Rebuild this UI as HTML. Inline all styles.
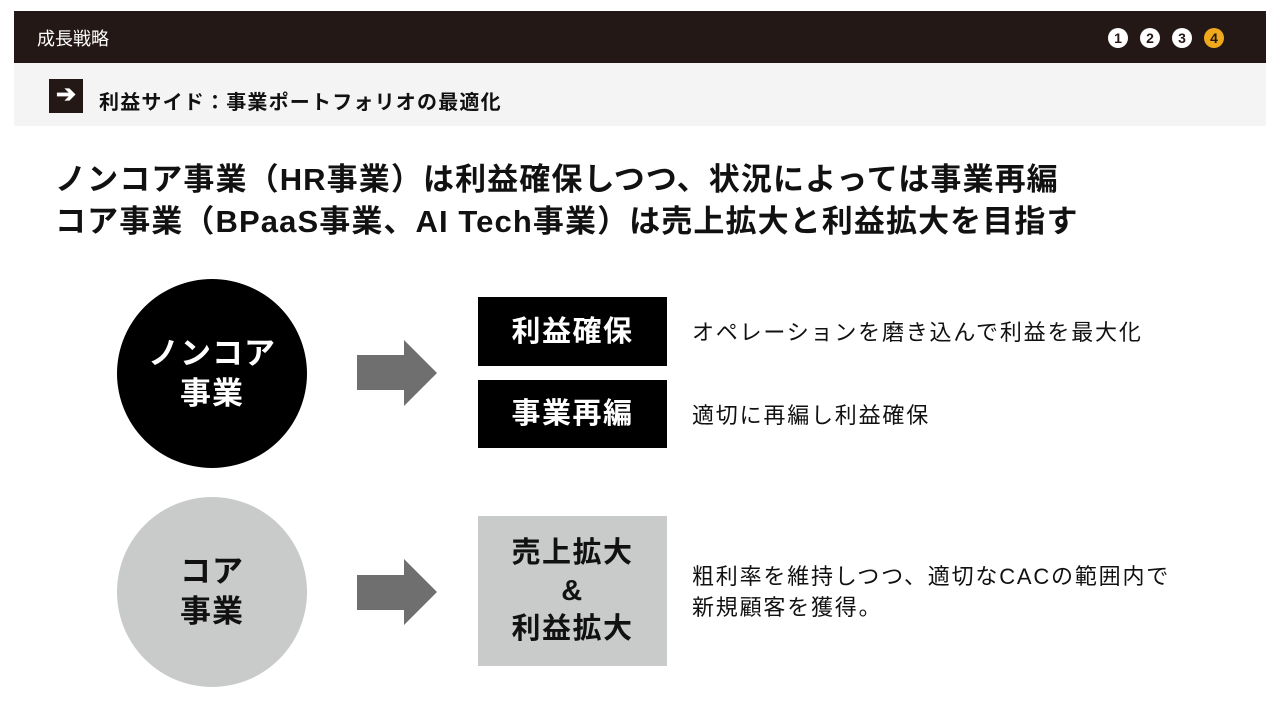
<!DOCTYPE html>
<html><head><meta charset="utf-8"><style>
body{margin:0;width:1280px;height:720px;background:#fff;position:relative;overflow:hidden;font-family:"Liberation Sans","Noto Sans CJK JP",sans-serif;color:#111}
.a{position:absolute}
.hdr{left:14px;top:11px;width:1252px;height:52px;background:#231815}
.sub{left:14px;top:63px;width:1252px;height:63px;background:#f4f4f4}
.num{width:20px;height:20px;border-radius:50%;background:#fff;color:#231815;font-weight:bold;font-size:14px;text-align:center;line-height:20px;top:28px}
.h1{left:55px;font-size:31px;font-weight:bold;white-space:nowrap;line-height:40px;letter-spacing:1.1px}
.circ{border-radius:50%;display:flex;align-items:center;justify-content:center;text-align:center;font-weight:bold;font-size:31px;line-height:40px;letter-spacing:1px}
.box{left:478px;width:189px;display:flex;align-items:center;justify-content:center;text-align:center;font-weight:bold;font-size:29px;line-height:38px;letter-spacing:1.5px}
.t{left:692px;font-size:22px;white-space:nowrap;line-height:31px;letter-spacing:1.8px}
</style></head><body>
<div class="a hdr"></div>
<div class="a" style="left:37px;top:25px;color:#fff;font-size:18px">成長戦略</div>
<div class="a num" style="left:1108px">1</div>
<div class="a num" style="left:1140px">2</div>
<div class="a num" style="left:1172px">3</div>
<div class="a num" style="left:1204px;background:#f0a81c;color:#231815">4</div>
<div class="a sub"></div>
<div class="a" style="left:49px;top:79px;width:34px;height:34px;background:#231815;color:#fff;font-size:24px;font-weight:bold;text-align:center;line-height:32px">➔</div>
<div class="a" style="left:99px;top:86px;font-size:20px;font-weight:bold;letter-spacing:1.2px">利益サイド：事業ポートフォリオの最適化</div>
<div class="a h1" style="top:160px">ノンコア事業（HR事業）は利益確保しつつ、状況によっては事業再編</div>
<div class="a h1" style="top:202px">コア事業（BPaaS事業、AI Tech事業）は売上拡大と利益拡大を目指す</div>
<div class="a circ" style="left:117px;top:279px;width:190px;height:189px;background:#000;color:#fff">ノンコア<br>事業</div>
<div class="a circ" style="left:117px;top:497px;width:190px;height:190px;background:#c9caca;color:#111">コア<br>事業</div>
<svg class="a" style="left:0;top:0" width="1280" height="720"><polygon fill="#6f6f6f" points="357,355 404,355 404,340 437,373 404,406 404,390 357,390"/><polygon fill="#6f6f6f" points="357,575 404,575 404,559 437,592 404,625 404,610 357,610"/></svg>
<div class="a box" style="top:297px;height:69px;background:#000;color:#fff">利益確保</div>
<div class="a box" style="top:380px;height:68px;background:#000;color:#fff">事業再編</div>
<div class="a box" style="top:516px;height:150px;background:#c9caca;color:#111">売上拡大<br>&amp;<br>利益拡大</div>
<div class="a t" style="top:317px">オペレーションを磨き込んで利益を最大化</div>
<div class="a t" style="top:400px">適切に再編し利益確保</div>
<div class="a t" style="top:561px">粗利率を維持しつつ、適切なCACの範囲内で<br>新規顧客を獲得。</div>
</body></html>
